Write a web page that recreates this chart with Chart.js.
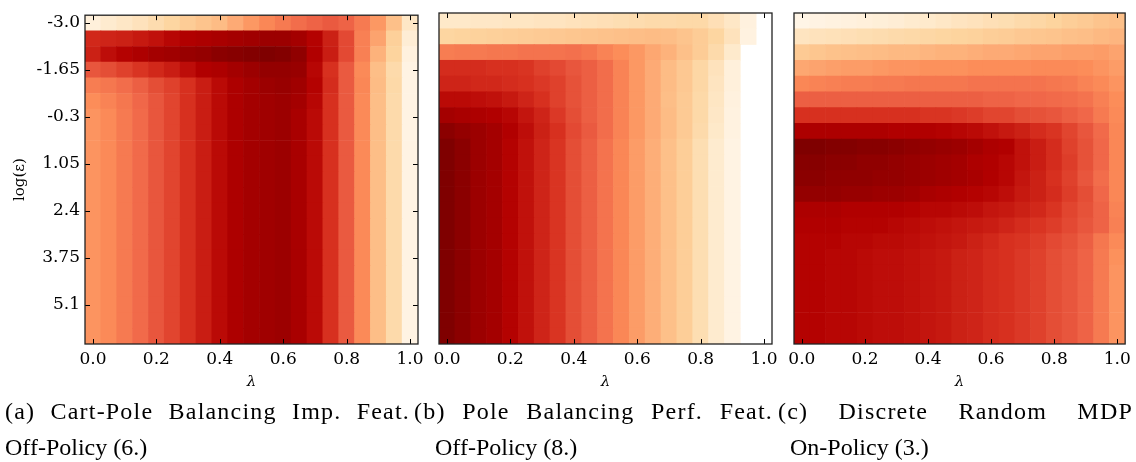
<!DOCTYPE html>
<html>
<head>
<meta charset="utf-8">
<script src="https://cdn.jsdelivr.net/npm/chart.js@4.4.1/dist/chart.umd.min.js"></script>
<style>
  html, body { margin: 0; padding: 0; background: #fff; }
  #wrap { position: relative; width: 1136px; height: 462px; overflow: hidden; }
  #wrap canvas { position: absolute; left: 0; top: 0; }
  .cap { position: absolute; font-family: 'Liberation Serif', serif; font-size: 24px; line-height: 36px; color: #000; white-space: nowrap; }
  .cap .l1 { text-align: justify; text-align-last: justify; letter-spacing: 1.2px; white-space: normal; }
</style>
</head>
<body>
<div id="wrap">
  <canvas id="chA" width="1136" height="400"></canvas>
  <canvas id="chB" width="1136" height="400"></canvas>
  <canvas id="chC" width="1136" height="400"></canvas>
  <div class="cap" style="left:5px; top:393px; width:405px;">
    <div class="l1">(a) Cart-Pole Balancing Imp. Feat.</div>
    <div>Off-Policy (6.)</div>
  </div>
  <div class="cap" style="left:414px; top:393px; width:359px;">
    <div class="l1">(b) Pole Balancing Perf. Feat.</div>
    <div style="padding-left:21px;">Off-Policy (8.)</div>
  </div>
  <div class="cap" style="left:778px; top:393px; width:355px;">
    <div class="l1">(c) Discrete Random MDP</div>
    <div style="padding-left:12px;">On-Policy (3.)</div>
  </div>
</div>
<script>
// axes: columns = lambda, rows = log(eps)
const lambdas = [0.0, 0.05, 0.1, 0.15, 0.2, 0.25, 0.3, 0.35, 0.4, 0.45, 0.5,
                 0.55, 0.6, 0.65, 0.7, 0.75, 0.8, 0.85, 0.9, 0.95, 1.0];
const logEps = [-3.0, -2.55, -2.1, -1.65, -1.2, -0.75, -0.3, 0.15, 0.6, 1.05, 1.5,
                1.95, 2.4, 2.85, 3.3, 3.75, 4.2, 4.65, 5.1, 5.55, 6.0];

const xTickVals = [0.0, 0.2, 0.4, 0.6, 0.8, 1.0];
const xTickLabels = ['0.0', '0.2', '0.4', '0.6', '0.8', '1.0'];
const yTickVals = [-3.0, -1.65, -0.3, 1.05, 2.4, 3.75, 5.1];
const yTickLabels = ['-3.0', '-1.65', '-0.3', '1.05', '2.4', '3.75', '5.1'];

// cell values, 0..100 on the colour scale (null = not plotted)
const heatA = [
  [6,10,13,16,20,24,29,33,37,42,47,52,56,60,63,65,63,56,47,35,13],
  [77,78,79,81,83,86,88,89,90,91,92,93,93,91,87,79,69,54,44,27,8],
  [79,84,87,89,91,92,94,95,97,98,99,100,99,96,88,80,69,54,40,25,5],
  [66,68,71,74,77,80,84,88,89,91,93,95,95,94,86,75,65,51,36,21,3],
  [55,57,60,64,68,71,75,80,85,89,91,93,94,92,87,76,65,52,37,22,3],
  [50,53,57,62,66,70,75,80,85,89,91,92,93,91,86,75,65,51,36,21,3],
  [48,51,56,61,66,70,75,80,85,89,91,92,93,90,85,75,65,51,36,21,3],
  [48,51,56,61,66,70,75,80,85,89,91,92,93,90,85,75,65,51,36,21,3],
  [48,51,56,61,66,70,75,80,85,89,91,92,93,90,85,75,65,51,36,21,3],
  [48,51,56,61,66,70,75,80,85,89,91,92,93,90,85,75,65,51,36,21,3],
  [48,51,56,61,66,70,75,80,85,89,91,92,93,90,85,75,65,51,36,21,3],
  [48,51,56,61,66,70,75,80,85,89,91,92,93,90,85,75,65,51,36,21,3],
  [48,51,56,61,66,70,75,80,85,89,91,92,93,90,85,75,65,51,36,21,3],
  [48,51,56,61,66,70,75,80,85,89,91,92,93,90,85,75,65,51,36,21,3],
  [48,51,56,61,66,70,75,80,85,89,91,92,93,90,85,75,65,51,36,21,3],
  [48,51,56,61,66,70,75,80,85,89,91,92,93,90,85,75,65,51,36,21,3],
  [48,51,56,61,66,70,75,80,85,89,91,92,93,90,85,75,65,51,36,21,3],
  [48,51,56,61,66,70,75,80,85,89,91,92,93,90,85,75,65,51,36,21,3],
  [48,51,56,61,66,70,75,80,85,89,91,92,93,90,85,75,65,51,36,21,3],
  [48,51,56,61,66,70,75,80,85,89,91,92,93,90,85,75,65,51,36,21,3],
  [48,51,56,61,66,70,75,80,85,89,91,92,93,90,85,75,65,51,36,21,3]
];

const heatB = [
  [12,12,13,13,14,14,15,15,16,17,18,19,20,21,21,22,22,18,13,5,null],
  [24,25,26,27,28,29,30,31,32,33,34,35,36,37,36,33,29,24,16,4,null],
  [55,56,56,57,57,58,58,58,59,57,53,50,47,43,40,35,29,21,11,null,null],
  [76,76,76,75,75,74,71,69,66,64,60,53,47,42,37,31,23,16,6,null,null],
  [78,78,77,77,76,75,73,71,67,64,60,53,47,42,37,31,23,15,6,null,null],
  [85,85,84,83,81,78,75,71,67,64,60,53,47,42,36,30,22,14,5,null,null],
  [91,90,89,88,86,82,78,73,68,64,60,53,47,42,37,30,22,13,4,null,null],
  [97,95,93,91,88,84,79,75,69,65,60,53,47,42,37,30,21,12,4,null,null],
  [100,97,93,91,87,83,78,74,68,64,58,52,46,41,35,28,19,10,3,null,null],
  [100,97,93,91,87,83,78,74,68,64,58,52,46,41,35,28,19,10,3,null,null],
  [100,97,93,91,87,83,78,74,68,64,58,52,46,41,35,28,19,10,3,null,null],
  [100,97,93,91,87,83,78,74,68,64,58,52,46,41,35,28,19,10,3,null,null],
  [100,97,93,91,87,83,78,74,68,64,58,52,46,41,35,28,19,10,3,null,null],
  [100,97,93,91,87,83,78,74,68,64,58,52,46,41,35,28,19,10,3,null,null],
  [100,97,93,91,87,83,78,74,68,64,58,52,46,41,35,28,19,10,3,null,null],
  [100,97,93,91,87,83,78,74,68,64,58,52,46,41,35,28,19,10,3,null,null],
  [100,97,93,91,87,83,78,74,68,64,58,52,46,41,35,28,19,10,3,null,null],
  [100,97,93,91,87,83,78,74,68,64,58,52,46,41,35,28,19,10,3,null,null],
  [100,97,93,91,87,83,78,74,68,64,58,52,46,41,35,28,19,10,3,null,null],
  [100,97,93,91,87,83,78,74,68,64,58,52,46,41,35,28,19,10,3,null,null],
  [100,97,93,91,87,83,78,74,68,64,58,52,46,41,35,28,19,10,3,null,null]
];

const heatC = [
  [2,3,4,5,6,7,8,10,11,13,15,16,18,19,21,23,25,28,30,33,35],
  [15,16,17,18,19,20,21,22,23,24,25,26,28,29,31,32,33,35,36,38,39],
  [30,32,34,35,36,37,38,38,39,40,40,41,42,42,43,44,44,45,45,46,44],
  [43,44,45,46,46,47,48,48,49,49,49,50,50,50,50,51,51,51,50,48,46],
  [52,53,54,55,55,56,56,57,57,57,57,58,58,58,58,58,57,56,53,51,48],
  [64,64,64,64,64,64,64,64,64,64,64,64,63,63,62,62,61,60,58,54,50],
  [75,75,75,75,75,75,75,75,74,74,73,72,70,70,68,67,66,64,62,56,51],
  [89,89,89,89,89,89,88,88,88,87,86,85,83,81,79,76,74,70,66,61,52],
  [100,100,99,99,98,98,97,96,95,94,93,91,89,88,83,80,76,71,67,62,52],
  [98,98,97,97,96,96,95,94,93,92,91,89,88,86,83,80,76,72,67,62,52],
  [97,97,96,96,96,95,95,94,93,92,91,90,88,86,82,79,75,71,66,60,52],
  [95,95,95,94,94,93,93,92,90,89,88,87,86,84,81,79,76,72,68,62,52],
  [89,89,89,88,88,88,88,87,86,86,85,84,82,81,79,77,74,70,67,63,53],
  [88,88,88,87,87,87,86,85,84,83,82,81,80,78,76,74,72,69,66,63,54],
  [87,87,87,86,86,85,85,84,83,82,81,79,77,75,74,72,69,67,64,57,51],
  [87,87,86,86,85,84,84,83,82,81,79,78,76,75,73,71,68,66,63,56,49],
  [87,87,86,86,85,84,84,83,82,81,79,78,76,75,73,71,68,66,63,56,48],
  [87,87,86,86,85,84,84,83,82,81,79,78,76,75,73,71,68,66,63,56,48],
  [87,87,86,86,85,84,84,83,82,81,79,78,76,75,73,71,68,66,63,56,48],
  [87,87,86,86,85,84,84,83,82,81,79,78,76,75,73,71,68,66,63,56,48],
  [87,87,86,86,85,84,84,83,82,81,79,78,76,75,73,71,68,66,63,56,48]
];

// OrRd colour map
const orRd = ['#fff7ec','#fee8c8','#fdd49e','#fdbb84','#fc8d59','#ef6548','#d7301f','#b30000','#7f0000'];
function hexRgb(h) {
  return [parseInt(h.slice(1,3),16), parseInt(h.slice(3,5),16), parseInt(h.slice(5,7),16)];
}
const orRdRgb = orRd.map(hexRgb);
function cmap(v) {
  const t = Math.max(0, Math.min(1, v / 100)) * (orRdRgb.length - 1);
  const i = Math.min(Math.floor(t), orRdRgb.length - 2);
  const f = t - i;
  const a = orRdRgb[i], b = orRdRgb[i + 1];
  const c = a.map((x, k) => Math.round(x + (b[k] - x) * f));
  return 'rgb(' + c.join(',') + ')';
}

const halfX = (lambdas[1] - lambdas[0]) / 2;
const halfY = (logEps[1] - logEps[0]) / 2;

function cells(grid) {
  const out = [];
  grid.forEach((row, r) => row.forEach((v, c) => {
    if (v === null) return;
    out.push({ x: lambdas[c], y: [logEps[r] - halfY, logEps[r] + halfY], v: v });
  }));
  return out;
}

const serif = "'DejaVu Serif', serif";
Chart.defaults.font.family = serif;
Chart.defaults.color = '#000';

// frame + inward ticks like matplotlib
const frameTicks = {
  id: 'frameTicks',
  afterDatasetsDraw(chart, args, opts) {
    const { ctx, chartArea: a, scales } = chart;
    ctx.save();
    ctx.strokeStyle = '#000';
    ctx.lineWidth = 1;
    ctx.beginPath();
    xTickVals.forEach(v => {
      const px = Math.round(scales.x.getPixelForValue(v)) + 0.5;
      ctx.moveTo(px, a.bottom); ctx.lineTo(px, a.bottom - 5);
      ctx.moveTo(px, a.top); ctx.lineTo(px, a.top + 5);
    });
    if (opts.yTicks) {
      yTickVals.forEach(v => {
        const py = Math.round(scales.y.getPixelForValue(v)) + 0.5;
        ctx.moveTo(a.left, py); ctx.lineTo(a.left + 5, py);
        ctx.moveTo(a.right, py); ctx.lineTo(a.right - 5, py);
      });
    }
    ctx.stroke();
    ctx.lineWidth = 1.3;
    ctx.strokeStyle = '#222';
    ctx.strokeRect(a.left, a.top, a.width, a.height);
    ctx.restore();
  }
};

function makeChart(id, grid, left, right, showY) {
  return new Chart(document.getElementById(id), {
    type: 'bar',
    data: {
      datasets: [{
        data: cells(grid),
        backgroundColor: c => cmap(c.raw ? c.raw.v : 0),
        borderWidth: 0,
        barPercentage: 1,
        categoryPercentage: 1
      }]
    },
    options: {
      responsive: false,
      animation: false,
      events: [],
      layout: { padding: { left: left, right: 1136 - right, top: 13, bottom: 0 } },
      plugins: { legend: { display: false }, tooltip: { enabled: false }, frameTicks: { yTicks: showY } },
      scales: {
        x: {
          type: 'linear',
          offset: false,
          min: lambdas[0] - halfX,
          max: lambdas[lambdas.length - 1] + halfX,
          afterBuildTicks: s => { s.ticks = xTickVals.map(v => ({ value: v })); },
          ticks: { callback: (v, i) => xTickLabels[i], padding: 5, maxRotation: 0, autoSkip: false,
                   font: { family: serif, size: 17 } },
          grid: { display: false, drawTicks: false, tickLength: 0 },
          border: { display: false },
          title: { display: true, text: 'λ', font: { family: serif, size: 15, style: 'italic' },
                   padding: { top: 0, bottom: 9 } },
          afterFit: s => { s.height = 56; }
        },
        y: {
          type: 'linear',
          display: showY,
          reverse: true,
          min: logEps[0] - halfY,
          max: logEps[logEps.length - 1] + halfY,
          afterBuildTicks: s => { s.ticks = yTickVals.map(v => ({ value: v })); },
          ticks: { callback: (v, i) => yTickLabels[i], padding: 5, autoSkip: false,
                   font: { family: serif, size: 17 } },
          grid: { display: false, drawTicks: false, tickLength: 0 },
          border: { display: false },
          title: { display: true, text: 'log(ε)', font: { family: serif, size: 15 },
                   padding: { top: 11, bottom: 0 } },
          afterFit: s => { s.width = showY ? 85 : 0; }
        }
      }
    },
    plugins: [frameTicks]
  });
}

makeChart('chA', heatA, 0, 418, true);
makeChart('chB', heatB, 439, 772, false);
makeChart('chC', heatC, 794, 1127, false);
</script>
</body>
</html>
